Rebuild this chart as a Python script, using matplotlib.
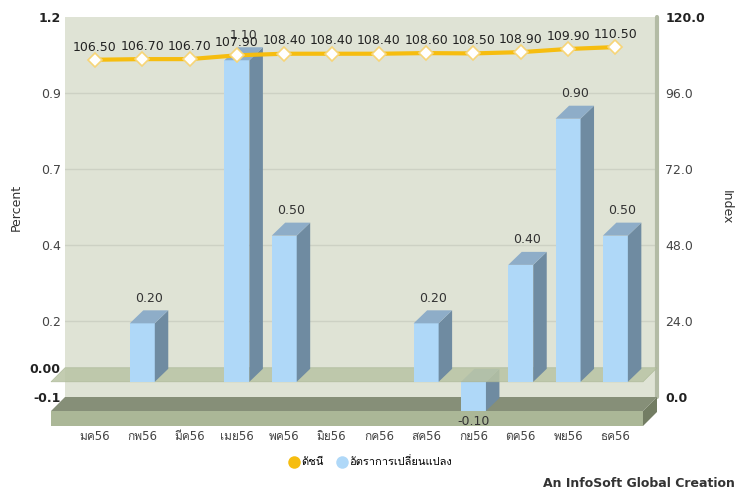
import numpy as np
import matplotlib
matplotlib.use("Agg")
import matplotlib.pyplot as plt
from matplotlib import font_manager as fm
from matplotlib.patches import Polygon, Rectangle
from matplotlib.lines import Line2D
from fontTools.ttLib import TTFont

# look for any installed family that can draw Thai
thai_fams = []
for f in fm.fontManager.ttflist:
    try:
        tt = TTFont(f.fname, fontNumber=0, lazy=True)
        cmap = tt.getBestCmap() or {}
        if 0x0E01 in cmap and 0x0E31 in cmap and f.name not in thai_fams:
            thai_fams.append(f.name)
    except Exception:
        pass
plt.rcParams['font.family'] = ['DejaVu Sans'] + thai_fams

# data
months = ['มค56', 'กพ56', 'มีค56', 'เมย56', 'พค56', 'มิย56',
          'กค56', 'สค56', 'กย56', 'ตค56', 'พย56', 'ธค56']
change = [np.nan, 0.20, np.nan, 1.10, 0.50, np.nan,
          np.nan, 0.20, -0.10, 0.40, 0.90, 0.50]
index_vals = [106.50, 106.70, 106.70, 107.90, 108.40, 108.40,
              108.40, 108.60, 108.50, 108.90, 109.90, 110.50]
left_ticks = [-0.1, 0.0, 0.16, 0.42, 0.68, 0.94, 1.2]
left_labels = ['-0.1', '0.00', '0.2', '0.4', '0.7', '0.9', '1.2']
right_ticks = [0, 24, 48, 72, 96, 120]
right_labels = ['0.0', '24.0', '48.0', '72.0', '96.0', '120.0']
legend_names = ['ดัชนี', 'อัตราการเปลี่ยนแปลง']

W, H = 740, 490
fig = plt.figure(figsize=(W / 100, H / 100), dpi=100)
# back wall of the 3d box in pixels: x 65..657, y 17..397
ax = fig.add_axes([65 / W, 1 - 397 / H, (657 - 65) / W, 380 / H])
ax.set_facecolor('#dfe3d5')
x0, x1 = -0.634, 11.88
ax.set_xlim(x0, x1)
ax.set_ylim(-0.1, 1.2)
for s in ax.spines.values():
    s.set_visible(False)

# depth offsets (data units) between back wall and front plane
DX, DY = -0.296, -0.048
# bar geometry
bw, bdx, bdy = 0.528, 0.285, 0.0445

for t in left_ticks[2:-1]:
    ax.axhline(t, color='#cdd1c4', lw=1, zorder=1)

# right side wall strip
ax.plot([x1, x1], [-0.1, 1.2], color='#b3bba5', lw=3, zorder=1, clip_on=False,
        solid_capstyle='round')


def bar3d(i, v, z):
    yb = DY
    yt = v + DY
    xl, xr = i - bw / 2, i + bw / 2
    lo, hi = min(yb, yt), max(yb, yt)
    ax.add_patch(Rectangle((xl, lo), bw, hi - lo, fc='#afd8f8', ec='none', zorder=z,
                           clip_on=False))
    ax.add_patch(Polygon([(xr, lo), (xr + bdx, lo + bdy), (xr + bdx, hi + bdy), (xr, hi)],
                         fc='#6f8ba1', ec='none', zorder=z, clip_on=False))
    ax.add_patch(Polygon([(xl, hi), (xr, hi), (xr + bdx, hi + bdy), (xl + bdx, hi + bdy)],
                         fc='#8eadc8', ec='none', zorder=z, clip_on=False))


# floor slab
ft = -0.1 + DY
fb = -0.1 - 29 / 292.3
ax.add_patch(Polygon([(x0, -0.1), (x1, -0.1), (x1 + DX, ft), (x0 + DX, ft)],
                     fc='#868f78', ec='none', zorder=1.5, clip_on=False))
ax.add_patch(Polygon([(x0 + DX, ft), (x1 + DX, ft), (x1 + DX, fb), (x0 + DX, fb)],
                     fc='#abb797', ec='none', zorder=1.5, clip_on=False))
ax.add_patch(Polygon([(x1 + DX, ft), (x1, -0.1), (x1, fb - DY), (x1 + DX, fb)],
                     fc='#737d63', ec='none', zorder=1.5, clip_on=False))

# negative bars first, then zero plane, then positive bars
for i, v in enumerate(change):
    if not np.isnan(v) and v < 0:
        bar3d(i, v, 2)

ax.add_patch(Polygon([(x0, 0), (x1, 0), (x1 + DX, DY), (x0 + DX, DY)],
                     fc='#b9c4a4', ec='#aab795', lw=0.5, alpha=0.85, zorder=3, clip_on=False))

for i, v in enumerate(change):
    if np.isnan(v):
        continue
    if v >= 0:
        bar3d(i, v, 4)
        ax.annotate(f'{v:.2f}', (i + bdx / 2, v + DY + bdy), xytext=(0, 4),
                    textcoords='offset points', ha='center', va='bottom',
                    fontsize=9, color='#333333', zorder=6)
    else:
        ax.annotate(f'{v:.2f}', (i, v + DY), xytext=(0, -3),
                    textcoords='offset points', ha='center', va='top',
                    fontsize=9, color='#333333', zorder=6, annotation_clip=False)

ax.set_xticks([])
ax.set_yticks(left_ticks)
ax.set_yticklabels(left_labels)
ax.tick_params(axis='y', length=0, pad=3, labelsize=9, labelcolor='#444444')
for lab in ax.get_yticklabels():
    if lab.get_text() in ('-0.1', '0.00', '1.2'):
        lab.set_fontweight('bold')
        lab.set_color('#222222')
ax.set_ylabel('Percent', fontsize=9, color='#333333', labelpad=5)

# index line on the right axis
ax2 = ax.twinx()
ax2.set_ylim(0, 120)
ax2.set_xlim(x0, x1)
for s in ax2.spines.values():
    s.set_visible(False)
xs = np.arange(len(months))
ax2.plot(xs, index_vals, color='#f6bd0f', lw=3, marker='D', ms=7,
         mfc='white', mec='#f7d578', mew=1.2, zorder=5)
for i, v in enumerate(index_vals):
    ax2.annotate(f'{v:.2f}', (i, v), xytext=(0, 4.5), textcoords='offset points',
                 ha='center', va='bottom', fontsize=9, color='#222222')
ax2.set_yticks(right_ticks)
ax2.set_yticklabels(right_labels)
ax2.tick_params(axis='y', length=0, pad=6, labelsize=9, labelcolor='#444444')
for lab in ax2.get_yticklabels():
    if lab.get_text() in ('0.0', '120.0'):
        lab.set_fontweight('bold')
        lab.set_color('#222222')
ax2.set_ylabel('Index', fontsize=9, color='#333333', rotation=270, labelpad=20)

# category labels under the floor
for i, m in enumerate(months):
    ax.annotate(m, (i, fb), xytext=(0, -3), textcoords='offset points',
                ha='center', va='top', fontsize=8.5, color='#444444',
                annotation_clip=False)

# legend
handles = [Line2D([], [], ls='none', marker='o', ms=9, mfc='#f6bd0f', mec='none'),
           Line2D([], [], ls='none', marker='o', ms=9, mfc='#afd8f8', mec='none')]
fig.legend(handles, legend_names, loc='center', bbox_to_anchor=(370 / W, 1 - 462 / H),
           ncol=2, frameon=False, fontsize=8, handletextpad=0.1, columnspacing=1.2,
           handlelength=1.0)

fig.text(735 / W, 1 - 483 / H, 'An InfoSoft Global Creation', ha='right', va='center',
         fontsize=9, fontweight='bold', color='#333333')

fig.savefig('out.png', dpi=100)
